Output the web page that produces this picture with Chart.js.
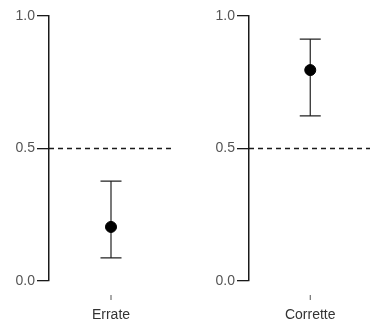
<!DOCTYPE html>
<html>
<head>
<meta charset="utf-8">
<script src="https://cdn.jsdelivr.net/npm/chart.js@4/dist/chart.umd.min.js"></script>
<style>
  html, body { margin: 0; padding: 0; background: #fff; }
  body { width: 370px; height: 323px; position: relative; overflow: hidden; }
  .panel { position: absolute; top: 0; height: 323px; }
  #p0 { left: 0; width: 185px; }
  #p1 { left: 200px; width: 178px; }
</style>
</head>
<body>
<div class="panel" id="p0"><canvas id="c0"></canvas></div>
<div class="panel" id="p1"><canvas id="c1"></canvas></div>
<script>
const categories = ['Errate', 'Corrette'];
const means = [0.204, 0.796];
const lower = [0.087, 0.623];
const upper = [0.377, 0.913];
const yTicks = [0, 0.5, 1.0];
const chanceLevel = 0.5;

const INK = '#1a1a1a';
const FONT = "'Liberation Sans', Arial, sans-serif";

const overlay = {
  id: 'overlay',
  beforeDatasetsDraw(chart) {
    const ctx = chart.ctx, a = chart.chartArea;
    const ys = chart.scales.y, xs = chart.scales.x;
    const i = chart.options.plugins.overlay.index;
    const yc = ys.getPixelForValue(chanceLevel);
    ctx.save();
    ctx.strokeStyle = INK;
    ctx.lineWidth = 1.3;
    ctx.setLineDash([5, 4]);
    ctx.beginPath();
    ctx.moveTo(a.left, yc);
    ctx.lineTo(a.right, yc);
    ctx.stroke();
    ctx.setLineDash([]);
    const xp = xs.getPixelForValue(0);
    const yl = ys.getPixelForValue(lower[i]);
    const yu = ys.getPixelForValue(upper[i]);
    const cap = 10.5;
    ctx.lineWidth = 1.2;
    ctx.strokeStyle = '#222';
    ctx.beginPath();
    ctx.moveTo(xp, yl); ctx.lineTo(xp, yu);
    ctx.moveTo(xp - cap, yl); ctx.lineTo(xp + cap, yl);
    ctx.moveTo(xp - cap, yu); ctx.lineTo(xp + cap, yu);
    ctx.stroke();
    ctx.strokeStyle = '#555';
    ctx.lineWidth = 1;
    ctx.beginPath();
    ctx.moveTo(xp, a.bottom + 14);
    ctx.lineTo(xp, a.bottom + 19);
    ctx.stroke();
    ctx.restore();
  }
};

function makeChart(id, i, padRight) {
  return new Chart(document.getElementById(id), {
    type: 'scatter',
    data: {
      labels: [categories[i]],
      datasets: [{
        data: [{ x: categories[i], y: means[i] }],
        pointRadius: 5.5,
        pointHoverRadius: 5.5,
        backgroundColor: '#000',
        borderColor: '#000',
        showLine: false
      }]
    },
    options: {
      responsive: true,
      maintainAspectRatio: false,
      animation: false,
      events: [],
      layout: { padding: { left: 14, right: padRight, top: 16, bottom: 0 } },
      plugins: {
        legend: { display: false },
        tooltip: { enabled: false },
        overlay: { index: i }
      },
      scales: {
        x: {
          type: 'category',
          labels: [categories[i]],
          offset: true,
          grid: { display: false },
          border: { display: false },
          ticks: { color: '#333', font: { family: FONT, size: 14 }, padding: 18, maxRotation: 0 },
          afterFit(s) { s.height = 42; }
        },
        y: {
          min: 0, max: 1,
          afterBuildTicks(s) { s.ticks = yTicks.map(v => ({ value: v })); },
          grid: { display: true, drawOnChartArea: false, drawTicks: true, tickLength: 12, color: INK, tickColor: INK, lineWidth: 1.3 },
          border: { display: true, color: INK, width: 1.5 },
          ticks: { color: '#555', font: { family: FONT, size: 14 }, padding: 2, callback: v => Number(v).toFixed(1) },
          afterFit(s) { s.width = 35; }
        }
      }
    },
    plugins: [overlay]
  });
}

makeChart('c0', 0, 12);
makeChart('c1', 1, 0);
</script>
</body>
</html>
